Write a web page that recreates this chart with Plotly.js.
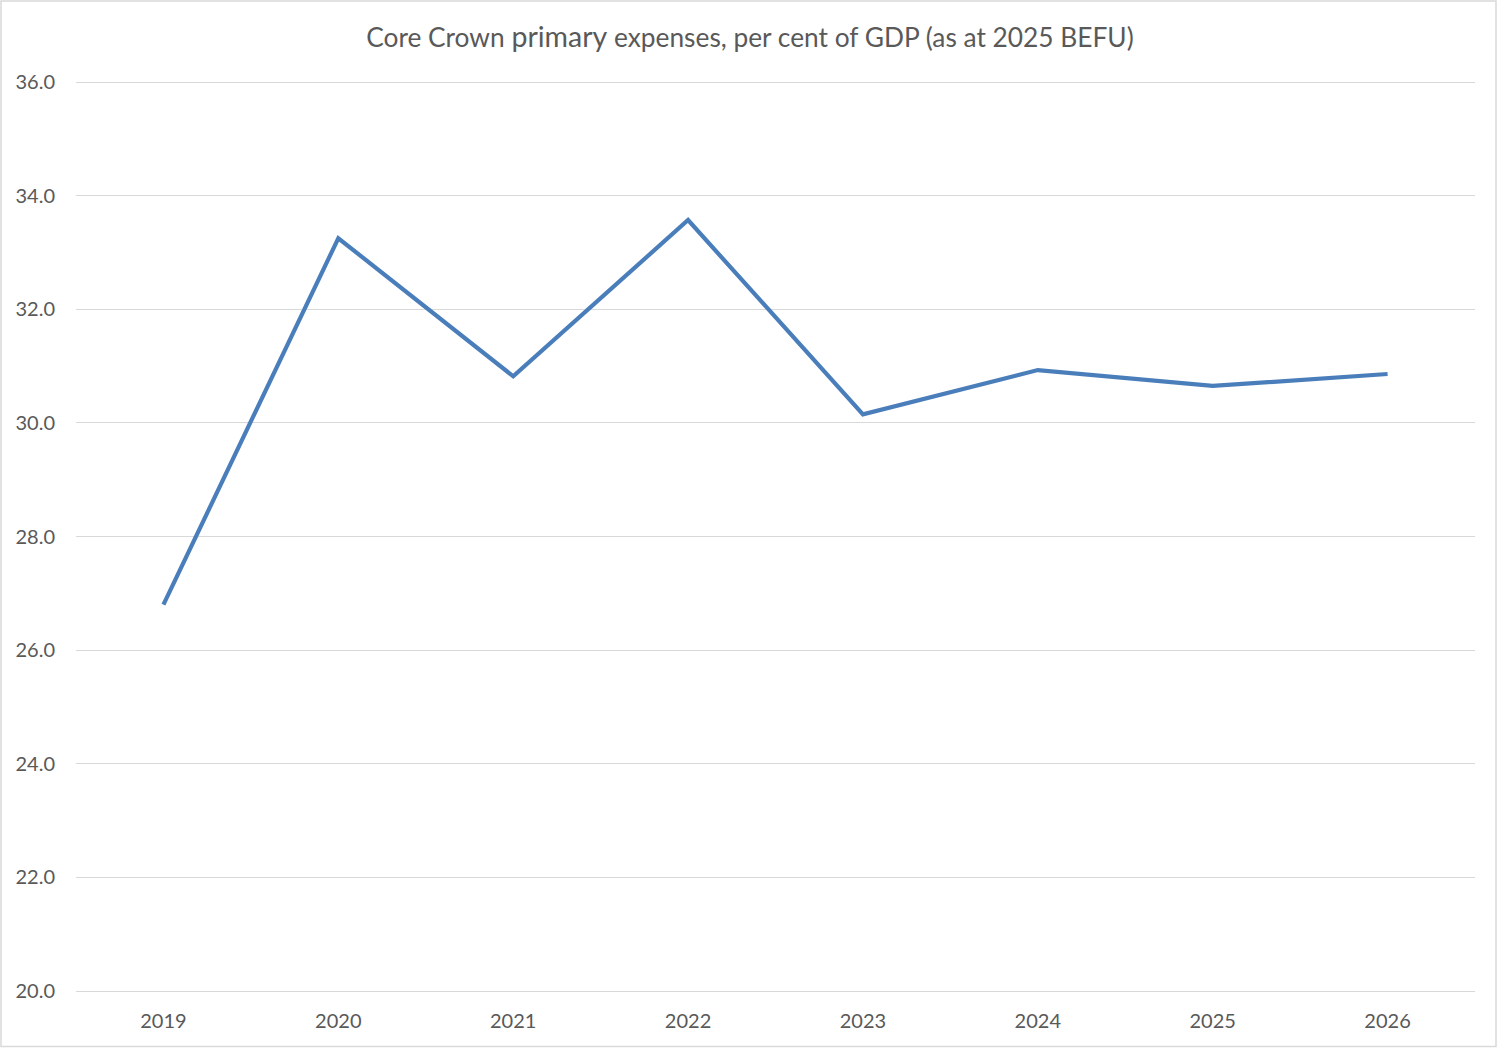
<!DOCTYPE html>
<html>
<head>
<meta charset="utf-8">
<script src="https://cdn.plot.ly/plotly-3.0.1.min.js"></script>
<style>
html,body{margin:0;padding:0;background:#fff;overflow:hidden;}
#chart{width:1500px;height:1049px;}
</style>
</head>
<body>
<div id="chart"></div>
<script>
const years = ["2019","2020","2021","2022","2023","2024","2025","2026"];
const expensesPctGDP = [26.8, 33.25, 30.82, 33.57, 30.15, 30.93, 30.65, 30.86];
const yTickValues = [20, 22, 24, 26, 28, 30, 32, 34, 36];

const W = 1500, H = 1049;
const M = {l: 76, r: 25, t: 79, b: 55};
const pw = W - M.l - M.r, ph = H - M.t - M.b;
// extend y range by ~3px each side so the 20.0 and 36.0 gridlines are drawn
const padY = 3 * 16 / (ph - 6);

const trace = {
  x: years,
  y: expensesPctGDP,
  type: 'scatter',
  mode: 'lines',
  line: {color: '#4a7ebb', width: 4.2},
  hoverinfo: 'x+y'
};

const layout = {
  width: W, height: H,
  margin: M,
  paper_bgcolor: '#ffffff',
  plot_bgcolor: '#ffffff',
  font: {family: 'Lato, "Open Sans", sans-serif', color: '#595959', size: 20},
  showlegend: false,
  title: {
    text: 'Core Crown <span style="font-size:28.5px">primary</span> expenses, per cent of GDP (as at 2025 BEFU)',
    x: 0.5, xanchor: 'center',
    y: 1 - 38 / H, yanchor: 'middle',
    font: {size: 26.3, color: '#595959', family: 'Lato, "Open Sans", sans-serif'}
  },
  xaxis: {
    type: 'category',
    range: [-0.5, years.length - 0.5],
    showgrid: false,
    zeroline: false,
    showline: false,
    ticks: '',
    ticklabelstandoff: 13,
    tickfont: {size: 20, color: '#595959'}
  },
  yaxis: {
    range: [20 - padY, 36 + padY],
    tickvals: yTickValues,
    tickformat: '.1f',
    showgrid: true,
    gridcolor: '#d9d9d9',
    gridwidth: 1.3,
    zeroline: false,
    showline: false,
    ticks: '',
    ticklabelstandoff: 20,
    tickfont: {size: 20, color: '#595959'}
  },
  shapes: [{
    type: 'rect',
    xref: 'paper', yref: 'paper',
    x0: -(M.l - 1) / pw, x1: 1 + (M.r - 4) / pw,
    y0: -(M.b - 2.5) / ph, y1: 1 + (M.t - 1) / ph,
    line: {color: '#d9d9d9', width: 1.5},
    fillcolor: 'rgba(0,0,0,0)',
    layer: 'below'
  }]
};

Plotly.newPlot('chart', [trace], layout, {displayModeBar: false});
</script>
</body>
</html>
